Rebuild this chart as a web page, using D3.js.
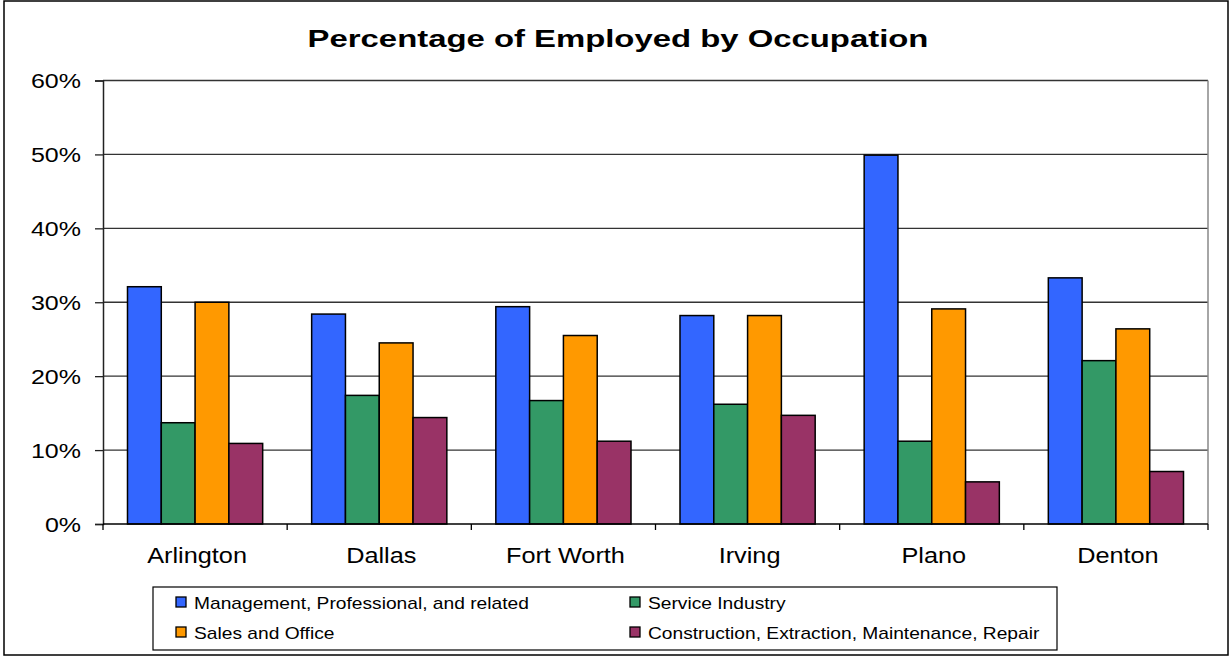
<!DOCTYPE html>
<html>
<head>
<meta charset="utf-8">
<script src="https://cdn.jsdelivr.net/npm/d3@7"></script>
<style>
  body { margin: 0; background: #fff; }
  svg { display: block; font-family: 'Liberation Sans', Arial, sans-serif; }
</style>
</head>
<body>
<svg id="chart" width="1231" height="656"></svg>
<script>
const cities = ['Arlington', 'Dallas', 'Fort Worth', 'Irving', 'Plano', 'Denton'];
const seriesNames = [
  'Management, Professional, and related',
  'Service Industry',
  'Sales and Office',
  'Construction, Extraction, Maintenance, Repair'
];
const management = [32.1, 28.4, 29.4, 28.2, 49.9, 33.3];
const service = [13.7, 17.4, 16.7, 16.2, 11.2, 22.1];
const sales = [30.0, 24.5, 25.5, 28.2, 29.1, 26.4];
const construction = [10.9, 14.4, 11.2, 14.7, 5.7, 7.1];
const yTicks = [0, 10, 20, 30, 40, 50, 60];
const colors = ['#3366FF', '#339966', '#FF9900', '#993366'];

const allSeries = [management, service, sales, construction];

const svg = d3.select('#chart');
const plot = { left: 103, right: 1208, top: 80.5, bottom: 524 };

// outer frame
svg.append('rect')
  .attr('x', 4).attr('y', 1).attr('width', 1224).attr('height', 654)
  .attr('fill', 'none').attr('stroke', '#000').attr('stroke-width', 1.5);

const x = d3.scaleBand().domain(cities).range([plot.left, plot.right]);
const xs = d3.scaleBand().domain(d3.range(4))
  .range([x.bandwidth() * 0.133, x.bandwidth() * 0.867]);
const y = d3.scaleLinear().domain([0, 60]).range([plot.bottom, plot.top]);

// gridlines
svg.append('g').selectAll('line').data(yTicks.slice(1)).join('line')
  .attr('x1', plot.left).attr('x2', plot.right)
  .attr('y1', d => y(d)).attr('y2', d => y(d))
  .attr('stroke', '#333').attr('stroke-width', 1.3);

// plot right border
svg.append('line')
  .attr('x1', plot.right).attr('x2', plot.right)
  .attr('y1', plot.top).attr('y2', plot.bottom)
  .attr('stroke', '#888').attr('stroke-width', 1.5);

// bars
const groups = svg.append('g').selectAll('g').data(cities).join('g')
  .attr('transform', c => `translate(${x(c)},0)`);
groups.selectAll('rect')
  .data((c, i) => allSeries.map((s, k) => ({ k, v: s[i] })))
  .join('rect')
  .attr('x', d => xs(d.k))
  .attr('width', xs.bandwidth())
  .attr('y', d => y(d.v))
  .attr('height', d => y(0) - y(d.v))
  .attr('fill', d => colors[d.k])
  .attr('stroke', '#000').attr('stroke-width', 1.5);

// y axis
const yAxis = svg.append('g').attr('transform', `translate(${plot.left},0)`)
  .call(d3.axisLeft(y).tickValues(yTicks).tickSize(8).tickFormat(d => d + '%'));
yAxis.select('.domain').attr('stroke', '#222').attr('stroke-width', 1.5);
yAxis.selectAll('.tick line').attr('stroke', '#222').attr('stroke-width', 1.3);
yAxis.selectAll('.tick text').remove();
yAxis.selectAll('.tick').append('text')
  .attr('transform', 'translate(-22,7) scale(1.25,1)')
  .attr('text-anchor', 'end')
  .attr('fill', '#000')
  .style('font-size', '20px')
  .text(d => d + '%');

// x axis
const xAxis = svg.append('g').attr('transform', `translate(0,${plot.bottom})`);
xAxis.append('line')
  .attr('x1', plot.left).attr('x2', plot.right)
  .attr('stroke', '#000').attr('stroke-width', 1.5);
xAxis.selectAll('line.tk').data(cities.concat(['end'])).join('line')
  .attr('class', 'tk')
  .attr('x1', (c, i) => plot.left + i * x.bandwidth())
  .attr('x2', (c, i) => plot.left + i * x.bandwidth())
  .attr('y1', 0).attr('y2', 6)
  .attr('stroke', '#000').attr('stroke-width', 1.3);
xAxis.selectAll('text').data(cities).join('text')
  .attr('transform', c => `translate(${x(c) + x.bandwidth() / 2 + 2},39) scale(1.15,1)`)
  .attr('text-anchor', 'middle')
  .style('font-size', '22px')
  .text(c => c);

// title
svg.append('text')
  .attr('transform', 'translate(618,47) scale(1.37,1)')
  .attr('text-anchor', 'middle')
  .style('font-size', '24px').style('font-weight', 'bold')
  .text('Percentage of Employed by Occupation');

// legend
const legend = svg.append('g');
legend.append('rect')
  .attr('x', 153).attr('y', 587).attr('width', 904).attr('height', 63)
  .attr('fill', '#fff').attr('stroke', '#000').attr('stroke-width', 1.2);
const legendPos = [[176, 597], [630, 597], [176, 627], [630, 627]];
const items = legend.selectAll('g.item').data(seriesNames).join('g')
  .attr('class', 'item')
  .attr('transform', (d, i) => `translate(${legendPos[i][0]},${legendPos[i][1]})`);
items.append('rect')
  .attr('width', 10).attr('height', 10)
  .attr('fill', (d, i) => colors[i])
  .attr('stroke', '#000').attr('stroke-width', 1.3);
items.append('text')
  .attr('transform', 'translate(18,11.5) scale(1.2,1)')
  .style('font-size', '16px')
  .text(d => d);
</script>
</body>
</html>
